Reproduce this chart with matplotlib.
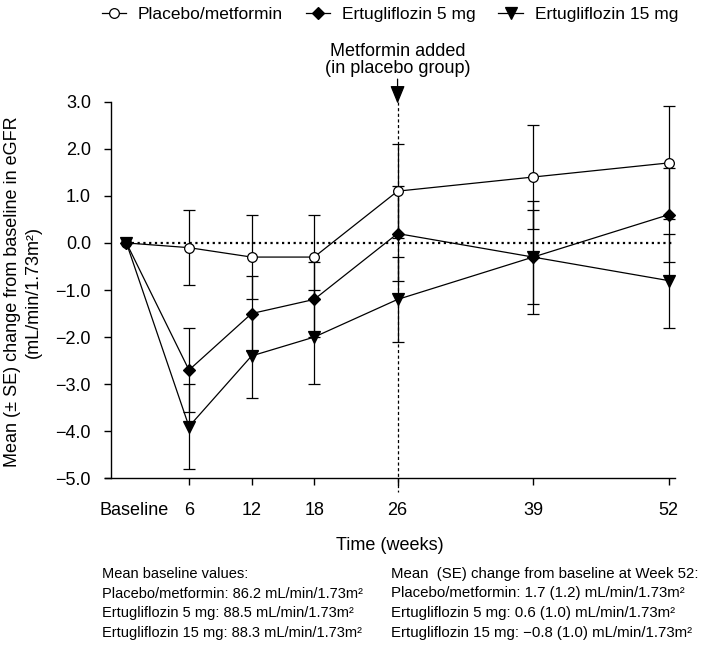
import numpy as np
import matplotlib
matplotlib.use('Agg')
import matplotlib.pyplot as plt
import matplotlib.transforms as mtransforms
from matplotlib.ticker import FuncFormatter

plt.rcParams['font.family'] = ['Liberation Sans', 'DejaVu Sans']

# data
weeks = [0, 6, 12, 18, 26, 39, 52]
week_labels = ['Baseline', '6', '12', '18', '26', '39', '52']
placebo_mean = [0, -0.1, -0.3, -0.3, 1.1, 1.4, 1.7]
placebo_se = [0, 0.8, 0.9, 0.9, 1.0, 1.1, 1.2]
ertu5_mean = [0, -2.7, -1.5, -1.2, 0.2, -0.3, 0.6]
ertu5_se = [0, 0.9, 0.8, 0.8, 1.0, 1.0, 1.0]
ertu15_mean = [0, -3.9, -2.4, -2.0, -1.2, -0.3, -0.8]
ertu15_se = [0, 0.9, 0.9, 1.0, 0.9, 1.2, 1.0]

baseline_lines = ['Mean baseline values:',
                  'Placebo/metformin: 86.2 mL/min/1.73m\u00b2',
                  'Ertugliflozin 5 mg: 88.5 mL/min/1.73m\u00b2',
                  'Ertugliflozin 15 mg: 88.3 mL/min/1.73m\u00b2']
week52_lines = ['Mean  (SE) change from baseline at Week 52:',
                'Placebo/metformin: 1.7 (1.2) mL/min/1.73m\u00b2',
                'Ertugliflozin 5 mg: 0.6 (1.0) mL/min/1.73m\u00b2',
                'Ertugliflozin 15 mg: \u22120.8 (1.0) mL/min/1.73m\u00b2']

fig = plt.figure(figsize=(7.09, 6.45), dpi=100)
ax = fig.add_axes([0.148, 0.2584, 0.804, 0.5839])

series = [
    ('Placebo/metformin', placebo_mean, placebo_se, dict(marker='o', mfc='white', ms=7)),
    ('Ertugliflozin 5 mg', ertu5_mean, ertu5_se, dict(marker='D', mfc='black', ms=6)),
    ('Ertugliflozin 15 mg', ertu15_mean, ertu15_se, dict(marker='v', mfc='black', ms=9)),
]

handles = []
for name, m, se, st in series:
    ax.errorbar(weeks[1:], m[1:], yerr=se[1:], fmt='none', ecolor='black',
                elinewidth=0.9, capsize=4, capthick=0.9, zorder=2)
    h, = ax.plot(weeks, m, color='black', lw=0.9, mec='black', mew=0.9,
                 zorder=3, label=name, **st)
    handles.append(h)

# zero reference line
ax.plot([0, 52.5], [0, 0], color='black', lw=1.6, ls=(0, (1, 1.6)), zorder=1)

# metformin added marker
ax.plot([26, 26], [3.0, -5.3], color='black', lw=0.9, ls=(0, (2.5, 2)),
        clip_on=False, zorder=1)
ax.annotate('', xy=(26, 2.96), xytext=(26, 3.48), annotation_clip=False,
            arrowprops=dict(arrowstyle='-|>,head_length=11,head_width=4.5',
                            mutation_scale=1, color='black', lw=0.9,
                            shrinkA=0, shrinkB=0))
ax.text(26, 3.52, 'Metformin added\n(in placebo group)', ha='center', va='bottom',
        fontsize=13, linespacing=1.05)

ax.set_xlim(-2.06, 52.6)
ax.set_ylim(-5, 3)
ax.spines['top'].set_visible(False)
ax.spines['right'].set_visible(False)
ax.spines['left'].set_position(('data', -1.52))
for sp in ['left', 'bottom']:
    ax.spines[sp].set_linewidth(1.0)

ax.set_xticks(weeks)
ax.set_xticklabels(week_labels)
ax.set_yticks(np.arange(-5, 3.1, 1))
ax.yaxis.set_major_formatter(FuncFormatter(lambda v, p: f'{v:.1f}'.replace('-', '\u2212')))
ax.tick_params(axis='both', labelsize=13, length=5, width=1.0, direction='out')
ax.tick_params(axis='x', pad=12)
ax.tick_params(axis='y', pad=9)
ax.xaxis.get_major_ticks()[0].tick1line.set_visible(False)
lab0 = ax.get_xticklabels()[0]
lab0.set_transform(lab0.get_transform() + mtransforms.ScaledTranslation(8 / 100, 0, fig.dpi_scale_trans))

ax.set_xlabel('Time (weeks)', fontsize=13, labelpad=13)
fig.text(23 / 709, 1 - 292 / 645,
         'Mean (\u00b1 SE) change from baseline in eGFR\n(mL/min/1.73m\u00b2)',
         rotation=90, ha='center', va='center', fontsize=13, linespacing=1.25)

fig.legend(handles=handles, loc='center', bbox_to_anchor=(0.55, 1 - 14 / 645),
           ncol=3, frameon=False, fontsize=12.5, handlelength=1.4,
           handletextpad=0.7, columnspacing=1.3)

y0 = 574
for i, (a, b) in enumerate(zip(baseline_lines, week52_lines)):
    y = 1 - (y0 + i * 19.5) / 645
    fig.text(102 / 709, y, a, ha='left', va='center', fontsize=10.5)
    fig.text(391 / 709, y, b, ha='left', va='center', fontsize=10.8)

fig.savefig('out.png', dpi=100)
